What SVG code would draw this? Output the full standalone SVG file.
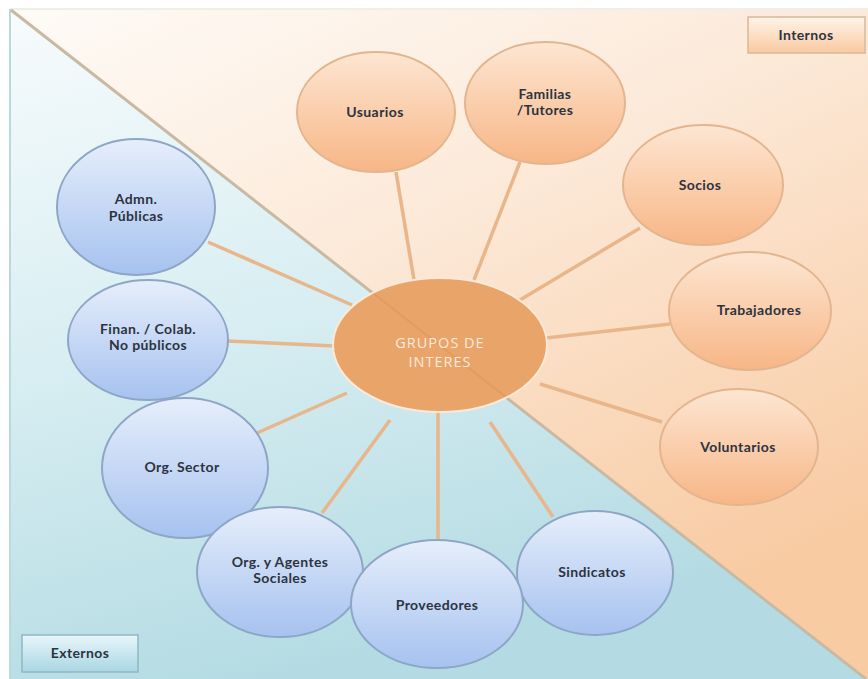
<svg xmlns="http://www.w3.org/2000/svg" width="868" height="679" viewBox="0 0 868 679">
<defs>
<linearGradient id="bgPeach" x1="0" y1="0" x2="0.6" y2="1">
<stop offset="0" stop-color="#fefbf7"/>
<stop offset="0.45" stop-color="#fce9d8"/>
<stop offset="1" stop-color="#f8cba3"/>
</linearGradient>
<linearGradient id="bgBlue" x1="0" y1="0" x2="0.3" y2="1">
<stop offset="0" stop-color="#f7fbfc"/>
<stop offset="0.5" stop-color="#d8eef2"/>
<stop offset="1" stop-color="#b4dbe3"/>
</linearGradient>
<linearGradient id="gOrange" x1="0" y1="0" x2="0" y2="1">
<stop offset="0" stop-color="#fde6d2"/>
<stop offset="1" stop-color="#f7b686"/>
</linearGradient>
<linearGradient id="gBlue" x1="0" y1="0" x2="0" y2="1">
<stop offset="0" stop-color="#e6eefb"/>
<stop offset="1" stop-color="#a6c2ef"/>
</linearGradient>
<linearGradient id="gIntern" x1="0" y1="0" x2="0" y2="1">
<stop offset="0" stop-color="#fff4ea"/>
<stop offset="1" stop-color="#f9c9a0"/>
</linearGradient>
<linearGradient id="gExtern" x1="0" y1="0" x2="0" y2="1">
<stop offset="0" stop-color="#e8f6fa"/>
<stop offset="1" stop-color="#a9d6e3"/>
</linearGradient>
<clipPath id="clipCenter"><ellipse cx="440" cy="345" rx="106" ry="66"/></clipPath>
</defs>
<style>
.on{fill:url(#gOrange);stroke:#e2b58e;stroke-width:2}
.bn{fill:url(#gBlue);stroke:#8ea6c6;stroke-width:2}
.t{font-family:Lato,"Open Sans","Liberation Sans",sans-serif;font-weight:bold;font-size:14px;letter-spacing:0.4px;fill:#2c3340;text-anchor:middle}
.ct{font-family:"Open Sans","Liberation Sans",sans-serif;font-size:14.5px;fill:#fbeadb;text-anchor:middle;letter-spacing:1px}
.c{stroke:#e8b68a;stroke-width:3.5;fill:none}
</style>
<rect x="0" y="0" width="868" height="679" fill="#ffffff"/>
<polygon points="10,9 868,9 868,679" fill="url(#bgPeach)"/>
<polygon points="10,9 868,679 10,679" fill="url(#bgBlue)"/>
<line x1="10" y1="9" x2="868" y2="9" stroke="#eef0e6" stroke-width="2"/>
<line x1="10" y1="9" x2="10" y2="679" stroke="#b9d9de" stroke-width="2"/>
<line id="diag" x1="11" y1="10" x2="866" y2="679" stroke="#c9b9a3" stroke-width="3"/>

<g id="connectors">
<line class="c" x1="396" y1="172" x2="414" y2="280"/>
<line class="c" x1="520" y1="162" x2="474" y2="280"/>
<line class="c" x1="640" y1="228" x2="520" y2="300"/>
<line class="c" x1="670" y1="324" x2="546" y2="338"/>
<line class="c" x1="662" y1="422" x2="540" y2="384"/>
<line class="c" x1="553" y1="517" x2="490" y2="422"/>
<line class="c" x1="438" y1="541" x2="438" y2="410"/>
<line class="c" x1="322" y1="513" x2="390" y2="420"/>
<line class="c" x1="257" y1="433" x2="347" y2="393"/>
<line class="c" x1="227" y1="341" x2="335" y2="346"/>
<line class="c" x1="208" y1="242" x2="352" y2="305"/>
</g>

<g id="center">
<ellipse cx="440" cy="345" rx="107" ry="67" fill="#e9a56a" stroke="#fbe9d9" stroke-width="2"/>
<line x1="300" y1="236" x2="580" y2="455" stroke="#d8975c" stroke-width="2" opacity="0.55" clip-path="url(#clipCenter)"/>
<text class="ct" x="440" y="348">GRUPOS DE</text>
<text class="ct" x="440" y="367">INTERES</text>
</g>

<g id="usuarios"><ellipse class="on" cx="376" cy="112" rx="79" ry="60"/><text class="t" x="375" y="117">Usuarios</text></g>
<g id="familias"><ellipse class="on" cx="545" cy="103" rx="80" ry="61"/><text class="t" x="545" y="99">Familias</text><text class="t" x="545" y="115">/Tutores</text></g>
<g id="socios"><ellipse class="on" cx="703" cy="185" rx="80" ry="60"/><text class="t" x="700" y="190">Socios</text></g>
<g id="trabajadores"><ellipse class="on" cx="750" cy="311" rx="81" ry="59"/><text class="t" x="759" y="315">Trabajadores</text></g>
<g id="voluntarios"><ellipse class="on" cx="739" cy="447" rx="79" ry="58"/><text class="t" x="738" y="452">Voluntarios</text></g>

<g id="admn"><ellipse class="bn" cx="136" cy="207" rx="79" ry="68"/><text class="t" x="136" y="204">Admn.</text><text class="t" x="136" y="221">Públicas</text></g>
<g id="finan"><ellipse class="bn" cx="148" cy="340" rx="80" ry="60"/><text class="t" x="148" y="334">Finan. / Colab.</text><text class="t" x="148" y="350">No públicos</text></g>
<g id="orgsector"><ellipse class="bn" cx="185" cy="468" rx="83" ry="70"/><text class="t" x="182" y="472">Org. Sector</text></g>
<g id="agentes"><ellipse class="bn" cx="280" cy="572" rx="83" ry="65"/><text class="t" x="280" y="567">Org. y Agentes</text><text class="t" x="280" y="583">Sociales</text></g>
<g id="sindicatos"><ellipse class="bn" cx="595" cy="573" rx="78" ry="62"/><text class="t" x="592" y="577">Sindicatos</text></g>
<g id="proveedores"><ellipse class="bn" cx="437" cy="604" rx="86" ry="64"/><text class="t" x="437" y="610">Proveedores</text></g>

<g id="internos"><rect x="748" y="17" width="117" height="36" fill="url(#gIntern)" stroke="#d9b89a" stroke-width="1.5"/><text class="t" x="806" y="40">Internos</text></g>
<g id="externos"><rect x="22" y="635" width="116" height="37" fill="url(#gExtern)" stroke="#8fb8c4" stroke-width="1.5"/><text class="t" x="80" y="658">Externos</text></g>
</svg>
